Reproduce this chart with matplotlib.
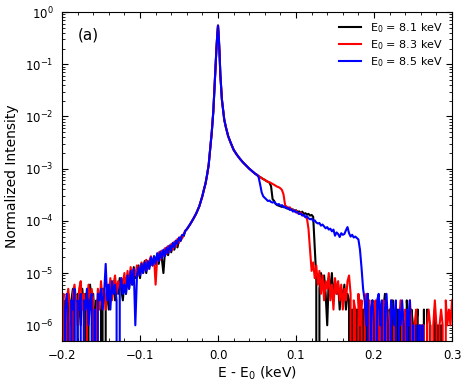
import numpy as np
import matplotlib
matplotlib.use('Agg')
import matplotlib.pyplot as plt
from matplotlib.ticker import FixedLocator, LogLocator, MultipleLocator, NullFormatter

# energy grids (keV, relative to E0)
x_left = np.round(np.arange(-0.200, -0.0419, 0.002), 3)
x_core = [-0.040, -0.036, -0.032, -0.028, -0.024, -0.020, -0.018, -0.016,
          -0.014, -0.012, -0.010, -0.008, -0.006, -0.004, -0.003, -0.002,
          -0.001, 0.000, 0.001, 0.002, 0.003, 0.005, 0.008, 0.010, 0.013,
          0.016, 0.020, 0.024, 0.028, 0.032, 0.036, 0.040, 0.044, 0.048]
x_right = np.round(np.arange(0.050, 0.3001, 0.002), 3)
y_ticks = [1e-6, 1e-5, 1e-4, 1e-3, 1e-2, 1e-1, 1]

# elastic peak, same for all three E0
core = [6.9e-5, 8.5e-5, 1.07e-4, 1.38e-4, 1.9e-4, 3.0e-4, 4.0e-4, 5.2e-4,
        7.6e-4, 1.17e-3, 2.4e-3, 5.0e-3, 1.26e-2, 5.0e-2, 0.10, 0.20,
        0.355, 0.55, 0.33, 0.158, 0.063, 0.021, 8.7e-3, 6.3e-3, 4.2e-3,
        3.2e-3, 2.3e-3, 1.86e-3, 1.55e-3, 1.32e-3, 1.15e-3, 1.0e-3, 8.9e-4, 7.9e-4]

# low energy side
black_left = [0, 3e-6, 2e-6, 0, 4e-6, 1e-6, 3e-6, 5e-6, 2e-6, 0,
              4e-6, 3e-6, 1e-6, 5e-6, 2e-6, 4e-6, 0, 3e-6, 6e-6, 2e-6,
              4e-6, 1e-6, 3e-6, 0, 0, 2e-6, 5e-6, 0, 3e-6, 4e-6,
              2e-6, 5e-6, 4e-6, 7e-6, 3e-6, 6e-6, 4e-6, 8e-6, 5e-6, 3e-6,
              7e-6, 4e-6, 9e-6, 5e-6, 1e-5, 6e-6, 1.3e-5, 8e-6, 1.1e-5, 1.4e-5,
              8e-6, 1.4e-5, 1.1e-5, 1.7e-5, 1e-5, 1.6e-5, 1.3e-5, 1.9e-5, 1.4e-5, 2.1e-5,
              1.6e-5, 2.2e-5, 1.5e-5, 2.4e-5, 1.9e-5, 1e-5, 2.6e-5, 2.9e-5, 2.2e-5, 3.1e-5,
              2.5e-5, 3.5e-5, 2.8e-5, 3.9e-5, 3.1e-5, 4.3e-5, 4.1e-5, 5e-5, 5.1e-5, 6.4e-5]
red_left = [2e-6, 4e-6, 0, 3e-6, 5e-6, 2e-6, 0, 4e-6, 6e-6, 3e-6,
            1e-6, 5e-6, 7e-6, 2e-6, 4e-6, 0, 3e-6, 6e-6, 2e-6, 5e-6,
            3e-6, 0, 1e-6, 5e-6, 2e-6, 7e-6, 3e-6, 5e-6, 2e-6, 6e-6,
            4e-6, 8e-6, 3e-6, 6e-6, 9e-6, 4e-6, 7e-6, 5e-6, 8e-6, 6e-6,
            1e-5, 5e-6, 1.1e-5, 6e-6, 1.3e-5, 8e-6, 1.2e-5, 9e-6, 1.4e-5, 9e-6,
            1.3e-5, 1.6e-5, 1e-5, 1.5e-5, 1.8e-5, 1.2e-5, 1.7e-5, 2.1e-5, 1.4e-5, 2e-5,
            6e-6, 1.9e-5, 2.5e-5, 1.8e-5, 2.7e-5, 2.1e-5, 3e-5, 2.3e-5, 3.3e-5, 2.6e-5,
            3.6e-5, 2.8e-5, 4e-5, 3.2e-5, 4.5e-5, 3.8e-5, 5e-5, 4.6e-5, 5.6e-5, 6.5e-5]
blue_left = [3e-6, 0, 2e-6, 4e-6, 1e-6, 0, 3e-6, 2e-6, 5e-6, 0,
             3e-6, 2e-6, 4e-6, 0, 3e-6, 2e-6, 5e-6, 1e-6, 3e-6, 4e-6,
             0, 2e-6, 0, 4e-6, 3e-6, 5e-6, 2e-6, 4e-6, 1.5e-5, 3e-6,
             6e-6, 2e-6, 7e-6, 4e-6, 6e-6, 3e-6, 0, 5e-6, 8e-6, 4e-6,
             6e-6, 4e-6, 9e-6, 5e-6, 1.1e-5, 6e-6, 1.2e-5, 1e-6, 8e-6, 1.3e-5,
             9e-6, 1.5e-5, 1e-5, 1.6e-5, 1.1e-5, 1.7e-5, 1.2e-5, 2e-5, 1.4e-5, 2.1e-5,
             1.5e-5, 2.4e-5, 1.7e-5, 2.6e-5, 1.9e-5, 2.8e-5, 2.1e-5, 3.1e-5, 2.4e-5, 3.4e-5,
             2.7e-5, 3.8e-5, 3.1e-5, 4.2e-5, 3.6e-5, 4.8e-5, 4.2e-5, 5.4e-5, 5.3e-5, 6.4e-5]

# high energy side
black_right = [7.6e-4, 7.2e-4, 6.9e-4, 6.6e-4, 6.3e-4, 6.1e-4, 5.8e-4, 5.6e-4, 5.4e-4, 4.6e-4,
               2.6e-4, 2.4e-4, 2.1e-4, 2.0e-4, 1.95e-4, 1.9e-4, 1.85e-4, 1.9e-4, 1.8e-4, 1.75e-4,
               1.7e-4, 1.72e-4, 1.62e-4, 1.66e-4, 1.55e-4, 1.6e-4, 1.48e-4, 1.52e-4, 1.42e-4, 1.5e-4,
               1.36e-4, 1.4e-4, 1.32e-4, 1.36e-4, 1.26e-4, 1.3e-4, 1.2e-4, 3e-5, 8e-6, 0,
               5e-6, 1e-5, 6e-6, 9e-6, 4e-6, 1e-6, 8e-6, 5e-6, 1e-5, 3e-6,
               7e-6, 4e-6, 6e-6, 2e-6, 5e-6, 3e-6, 6e-6, 2e-6, 4e-6, 3e-6,
               0, 2e-6, 0, 1e-6, 2e-6, 0, 3e-6, 1e-6, 2e-6, 0,
               3e-6, 4e-6, 1e-6, 2e-6, 3e-6, 0, 2e-6, 1e-6, 3e-6, 0,
               1e-6, 2e-6, 4e-6, 1e-6, 0, 2e-6, 1e-6, 3e-6, 0, 1e-6,
               2e-6, 0, 1e-6, 2e-6, 1e-6, 0, 3e-6, 1e-6, 0, 2e-6,
               1e-6, 0, 1e-6, 2e-6, 0, 1e-6, 0, 2e-6, 0, 2e-6,
               0, 1e-6, 0, 0, 2e-6, 0, 1e-6, 0, 1e-6, 0,
               0]
red_right = [7.6e-4, 7.2e-4, 6.9e-4, 6.6e-4, 6.3e-4, 6.1e-4, 5.8e-4, 5.6e-4, 5.5e-4, 5.3e-4,
             5.1e-4, 4.9e-4, 4.7e-4, 4.5e-4, 4.4e-4, 4.2e-4, 3.9e-4, 3.2e-4, 2.0e-4, 1.86e-4,
             1.78e-4, 1.82e-4, 1.66e-4, 1.62e-4, 1.5e-4, 1.58e-4, 1.4e-4, 1.38e-4, 1.45e-4, 1.32e-4,
             1.26e-4, 1.2e-4, 1.12e-4, 7e-5, 2.8e-5, 1.1e-5, 1.6e-5, 8e-6, 1.4e-5, 6e-6,
             1.1e-5, 4e-6, 9e-6, 3e-6, 7e-6, 5e-6, 1e-5, 3e-6, 6e-6, 2e-6,
             8e-6, 4e-6, 7e-6, 3e-6, 6e-6, 2e-6, 5e-6, 3e-6, 7e-6, 9e-6,
             4e-6, 0, 3e-6, 2e-6, 0, 4e-6, 1e-6, 3e-6, 0, 2e-6,
             4e-6, 1e-6, 3e-6, 0, 2e-6, 1e-6, 3e-6, 0, 2e-6, 1e-6,
             0, 3e-6, 1e-6, 2e-6, 0, 1e-6, 3e-6, 0, 1e-6, 2e-6,
             0, 1e-6, 3e-6, 1e-6, 0, 2e-6, 1e-6, 0, 3e-6, 1e-6,
             0, 1e-6, 2e-6, 0, 1e-6, 0, 1e-6, 1e-6, 0, 1e-6,
             2e-6, 1e-6, 0, 1e-6, 3e-6, 1e-6, 0, 1e-6, 2e-6, 1e-6,
             0, 3e-6, 1e-6, 2e-6, 1e-6, 3e-6]
blue_right = [7.6e-4, 6.9e-4, 5.0e-4, 3.5e-4, 2.95e-4, 2.75e-4, 2.57e-4, 2.4e-4, 2.45e-4, 2.3e-4,
              2.24e-4, 2.3e-4, 2.14e-4, 2.04e-4, 2.1e-4, 1.95e-4, 2e-4, 1.82e-4, 1.86e-4, 1.74e-4,
              1.78e-4, 1.62e-4, 1.66e-4, 1.51e-4, 1.58e-4, 1.45e-4, 1.48e-4, 1.35e-4, 1.38e-4, 1.26e-4,
              1.32e-4, 1.17e-4, 1.23e-4, 1.12e-4, 1.07e-4, 1.1e-4, 1e-4, 1.02e-4, 9.3e-5, 8.9e-5,
              9.1e-5, 8.1e-5, 8.5e-5, 7.8e-5, 7.2e-5, 7.6e-5, 6.8e-5, 7.1e-5, 6.3e-5, 6.8e-5,
              5.2e-5, 6e-5, 5.6e-5, 4.9e-5, 5.8e-5, 5.4e-5, 5.6e-5, 6.6e-5, 7.6e-5, 5.8e-5,
              5e-5, 5.4e-5, 4.8e-5, 5e-5, 4.7e-5, 4.4e-5, 2.8e-5, 1.26e-5, 5e-6, 3e-6,
              1e-6, 4e-6, 0, 2e-6, 3e-6, 1e-6, 0, 3e-6, 4e-6, 1e-6,
              3e-6, 0, 2e-6, 4e-6, 1e-6, 0, 3e-6, 2e-6, 1e-6, 3e-6,
              0, 2e-6, 1e-6, 3e-6, 1e-6, 0, 2e-6, 1e-6, 3e-6, 0,
              1e-6, 0, 1e-6, 0, 1e-6, 0, 1e-6, 0]

series = [
    ('k', r'E$_0$ = 8.1 keV', black_left, black_right),
    ('r', r'E$_0$ = 8.3 keV', red_left, red_right),
    ('b', r'E$_0$ = 8.5 keV', blue_left, blue_right),
]

fig = plt.figure(figsize=(4.69, 3.87), dpi=100)
ax = fig.add_axes([0.1322, 0.1189, 0.8316, 0.8500])
ax.set_yscale('log', nonpositive='clip')

for color, label, left, right in series:
    xs = np.concatenate([x_left[:len(left)], x_core, x_right[:len(right)]])
    ys = np.concatenate([left, core, right])
    ax.plot(xs, ys, color=color, lw=1.5, label=label)

ax.set_xlim(-0.2, 0.3)
ax.set_ylim(5e-7, 1)
ax.xaxis.set_major_locator(MultipleLocator(0.1))
ax.xaxis.set_minor_locator(MultipleLocator(0.02))
ax.yaxis.set_major_locator(FixedLocator(y_ticks))
ax.yaxis.set_minor_locator(LogLocator(base=10, subs=np.arange(2, 10), numticks=15))
ax.yaxis.set_minor_formatter(NullFormatter())
ax.tick_params(which='both', direction='in', top=True, right=True, labelsize=8.5, pad=6)
ax.tick_params(which='major', length=4.5)
ax.tick_params(which='minor', length=2.5)

ax.set_xlabel(r'E - E$_0$ (keV)', fontsize=10, labelpad=2)
ax.set_ylabel('Normalized Intensity', fontsize=10)
ax.text(0.04, 0.93, '(a)', transform=ax.transAxes, fontsize=11, va='center')
ax.legend(loc='upper right', frameon=False, fontsize=8, handlelength=2.0,
          borderaxespad=0.4, labelspacing=0.3)

fig.savefig('out.png', dpi=100)
